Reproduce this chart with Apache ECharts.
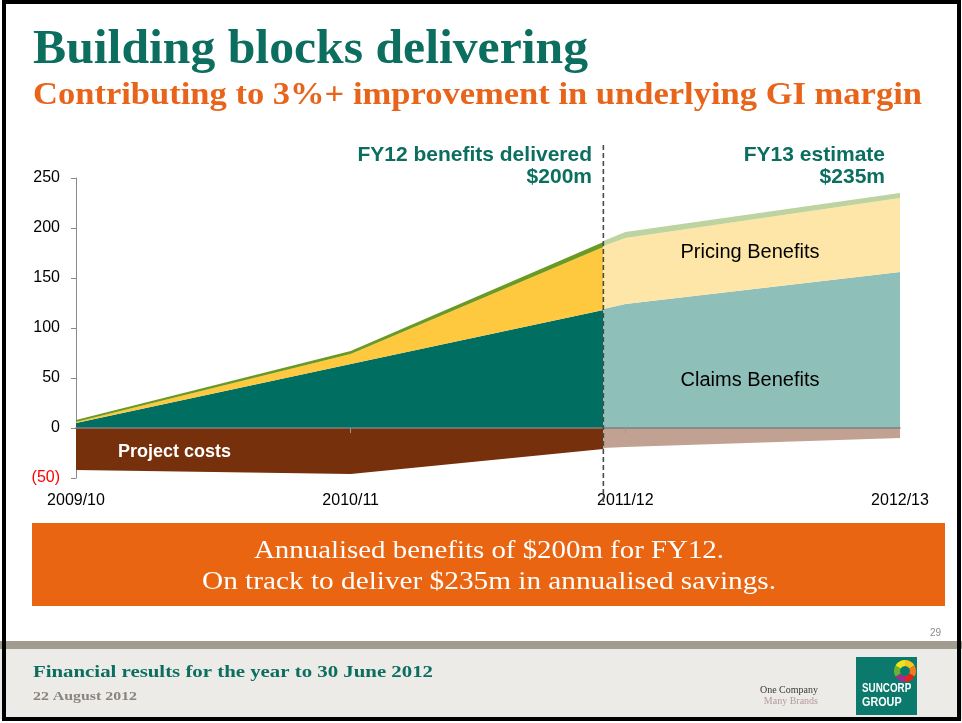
<!DOCTYPE html>
<html>
<head>
<meta charset="utf-8">
<title>Building blocks delivering</title>
<script src="https://cdn.jsdelivr.net/npm/echarts@6.0.0/dist/echarts.min.js"></script>
<style>
  html, body { margin: 0; padding: 0; background: #fff; }
  #main { width: 962px; height: 723px; }
</style>
</head>
<body>
<div id="main"></div>
<script>
// x positions: 0 = 2009/10 ... 3 = 2012/13, the FY12/FY13 split sits a little before 2011/12
const categories = ['2009/10', '2010/11', '2011/12', '2012/13'];
const splitX = 1.92;

// FY12 delivered (dark colours)
const fy12X = [0, 1, splitX];
const fy12Claims = [5, 64, 118];
const fy12Pricing = [1, 10, 63];
const fy12Other = [2, 3, 5];
const fy12Costs = [-42, -46, -21];

// FY13 estimate (light colours)
const fy13X = [splitX, 2, 3];
const fy13Claims = [119, 124, 156];
const fy13Pricing = [63, 66, 74];
const fy13Other = [5, 6, 5];
const fy13Costs = [-20, -19, -10];

const yMin = -50, yMax = 250, yStep = 50;

const TEAL = '#0b6e5f';
const SERIF = '"Liberation Serif", "DejaVu Serif", serif';
const SANS = '"Liberation Sans", Arial, sans-serif';

// value is put first so that echarts stacks on y (both axes are value axes)
const pairs = (xs, ys) => xs.map((x, i) => [ys[i], x]);

// squeeze/stretch a text so it spans the width seen on the slide
const measureCtx = document.createElement('canvas').getContext('2d');
function fitScale(text, font, width) {
  measureCtx.font = font;
  return width / measureCtx.measureText(text).width;
}

function areaSeries(name, stack, xs, ys, color) {
  return {
    name: name,
    type: 'line',
    stack: stack,
    data: pairs(xs, ys),
    encode: { x: 1, y: 0 },
    symbol: 'none',
    lineStyle: { width: 0 },
    areaStyle: { color: color, opacity: 1 },
    itemStyle: { color: color },
    silent: true,
    z: 2
  };
}

const chart = echarts.init(document.getElementById('main'));

const option = {
  animation: false,
  backgroundColor: '#fff',
  grid: { left: 76, right: 62, top: 178, bottom: 245, outerBoundsMode: 'none' },
  xAxis: [
    {
      type: 'value',
      min: 0, max: 3, interval: 1,
      position: 'bottom',
      axisLine: { show: false, onZero: false },
      axisTick: { show: false },
      splitLine: { show: false },
      axisLabel: {
        margin: 15,
        color: '#000',
        fontFamily: SANS,
        fontSize: 16,
        showMinLabel: true,
        showMaxLabel: true,
        formatter: v => categories[v] || ''
      }
    },
    {
      type: 'value',
      min: 0, max: 3, interval: 1,
      position: 'bottom',
      z: 10,
      axisLine: { show: true, onZero: true, lineStyle: { color: '#808080', width: 1.5 } },
      axisTick: { show: true, length: 5, customValues: [1, 2], lineStyle: { color: '#9a9a9a' } },
      axisLabel: { show: false },
      splitLine: { show: false }
    }
  ],
  yAxis: {
    type: 'value',
    min: yMin, max: yMax, interval: yStep,
    axisLine: { show: true, lineStyle: { color: '#8a8a8a' } },
    axisTick: { show: true, length: 5, lineStyle: { color: '#8a8a8a' } },
    splitLine: { show: false },
    axisLabel: {
      margin: 16,
      fontFamily: SANS,
      fontSize: 16,
      color: v => (v < 0 ? '#ff0000' : '#000'),
      formatter: v => (v < 0 ? '(' + (-v) + ')' : String(v))
    }
  },
  series: [
    areaSeries('Claims Benefits', 'fy12', fy12X, fy12Claims, '#006f62'),
    areaSeries('Pricing Benefits', 'fy12', fy12X, fy12Pricing, '#fec83f'),
    areaSeries('Other', 'fy12', fy12X, fy12Other, '#6b9a24'),
    areaSeries('Project costs', 'fy12c', fy12X, fy12Costs, '#76300b'),
    areaSeries('Claims Benefits FY13', 'fy13', fy13X, fy13Claims, '#8ebfb9'),
    areaSeries('Pricing Benefits FY13', 'fy13', fy13X, fy13Pricing, '#fde6a8'),
    areaSeries('Other FY13', 'fy13', fy13X, fy13Other, '#bdd3a0'),
    areaSeries('Project costs FY13', 'fy13c', fy13X, fy13Costs, '#c1a292')
  ]
};

chart.setOption(option);

// ---- slide decoration and annotations ----
const titleText = 'Building blocks delivering';
const titleFont = 'bold 48px ' + SERIF;
const subText = 'Contributing to 3%+ improvement in underlying GI margin';
const subFont = 'bold 31px ' + SERIF;
const box1 = 'Annualised benefits of $200m for FY12.';
const box2 = 'On track to deliver $235m in annualised savings.';
const boxFont = '25px ' + SERIF;
const footText = 'Financial results for the year to 30 June 2012';
const footFont = 'bold 17px ' + SERIF;
const dateText = '22 August 2012';
const dateFont = 'bold 12px ' + SERIF;

function txt(x, y, text, font, fill, align, scaleX, extra) {
  return Object.assign({
    type: 'text',
    x: x, y: y,
    scaleX: scaleX || 1,
    silent: true,
    z: 100,
    style: {
      text: text, font: font, fill: fill,
      align: align || 'left', verticalAlign: 'middle',
      textAlign: align || 'left', textVerticalAlign: 'middle'
    }
  }, extra || {});
}

const dashPx = chart.convertToPixel({ xAxisIndex: 0 }, splitX);
const dashTop = chart.convertToPixel({ yAxisIndex: 0 }, 283);
const dashBottom = chart.convertToPixel({ yAxisIndex: 0 }, -77);

const logoColors = ['#f7c51e', '#ef7d1a', '#e2231a', '#9b2f8e', '#6ab42d', '#f2e31b'];
const logoSectors = logoColors.map((c, i) => ({
  type: 'sector',
  silent: true,
  z: 101,
  shape: {
    cx: 905, cy: 671, r: 11, r0: 5,
    startAngle: (i * 60 - 90) * Math.PI / 180,
    endAngle: ((i + 1) * 60 - 90) * Math.PI / 180
  },
  style: { fill: c }
}));

chart.setOption({
  graphic: [
    // footer band
    { type: 'rect', silent: true, z: 90, shape: { x: 0, y: 641, width: 962, height: 8 }, style: { fill: '#a29c90' } },
    { type: 'rect', silent: true, z: 90, shape: { x: 0, y: 649, width: 962, height: 70 }, style: { fill: '#ecebe7' } },
    // slide frame
    { type: 'rect', silent: true, z: 120, shape: { x: 4, y: 2, width: 955, height: 717 }, style: { fill: null, stroke: '#000', lineWidth: 4 } },

    txt(33, 51, titleText, titleFont, TEAL, 'left', fitScale(titleText, titleFont, 555)),
    txt(33, 96, subText, subFont, '#e8641b', 'left', fitScale(subText, subFont, 889)),

    // chart annotations
    {
      type: 'line', silent: true, z: 50,
      shape: { x1: dashPx, y1: dashTop, x2: dashPx, y2: dashBottom },
      style: { stroke: '#4a4a4a', lineWidth: 1.6, lineDash: [5, 3] }
    },
    txt(592, 155, 'FY12 benefits delivered', 'bold 21px ' + SANS, TEAL, 'right'),
    txt(592, 177, '$200m', 'bold 21px ' + SANS, TEAL, 'right'),
    txt(885, 155, 'FY13 estimate', 'bold 21px ' + SANS, TEAL, 'right'),
    txt(885, 177, '$235m', 'bold 21px ' + SANS, TEAL, 'right'),
    txt(750, 252, 'Pricing Benefits', '20px ' + SANS, '#000', 'center'),
    txt(750, 380, 'Claims Benefits', '20px ' + SANS, '#000', 'center'),
    txt(118, 452, 'Project costs', 'bold 18px ' + SANS, '#fff', 'left'),

    // orange message box
    { type: 'rect', silent: true, z: 90, shape: { x: 32, y: 523, width: 913, height: 83 }, style: { fill: '#ea6512' } },
    txt(489, 551, box1, boxFont, '#fff', 'center', fitScale(box1, boxFont, 470)),
    txt(489, 582, box2, boxFont, '#fff', 'center', fitScale(box2, boxFont, 574)),

    txt(941, 633, '29', '10px ' + SANS, '#8a8a8a', 'right'),
    txt(33, 673, footText, footFont, TEAL, 'left', fitScale(footText, footFont, 400)),
    txt(33, 697, dateText, dateFont, '#8a8480', 'left', fitScale(dateText, dateFont, 104)),

    // logo
    txt(818, 690, 'One Company', '10px ' + SERIF, '#3a3a3a', 'right'),
    txt(818, 701, 'Many Brands', '10px ' + SERIF, '#b39aa3', 'right'),
    { type: 'rect', silent: true, z: 100, shape: { x: 856, y: 657, width: 61, height: 58 }, style: { fill: '#0b7a6c' } },
    txt(862, 689, 'SUNCORP', 'bold 12px ' + SANS, '#fff', 'left', 0.82),
    txt(862, 703, 'GROUP', 'bold 12px ' + SANS, '#fff', 'left', 0.9)
  ].concat(logoSectors)
});

window.addEventListener('resize', () => chart.resize());
</script>
</body>
</html>
